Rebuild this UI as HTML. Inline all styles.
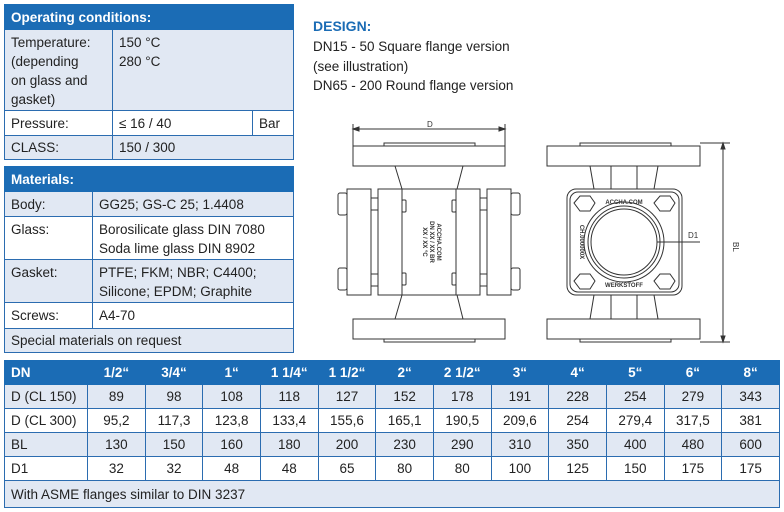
<!DOCTYPE html>
<html><head><meta charset="utf-8"><style>
body{margin:0;width:784px;height:512px;background:#fff;position:relative;font-family:"Liberation Sans",sans-serif;font-size:13.5px;color:#222;overflow:hidden}
.a{position:absolute;box-sizing:border-box}
table{border-collapse:collapse;position:absolute;table-layout:fixed}
td{border:1.5px solid #2b6cb0;padding:0 6px;vertical-align:top;line-height:19px}
tr.h td{background:#1b6cb5;color:#fff;font-weight:bold;border-color:#1b6cb5}
tr.l td{background:#e1e8f3}
#b td{text-align:center;vertical-align:middle;padding:0}
#b td:first-child{text-align:left;padding-left:6px}
</style></head><body>
<table style="left:4px;top:4px;width:290px">
<colgroup><col style="width:108px"><col style="width:140px"><col></colgroup>
<tr class="h" style="height:25px"><td colspan="3" style="vertical-align:middle">Operating conditions:</td></tr>
<tr class="l" style="height:81px"><td style="padding-top:3px">Temperature:<br>(depending<br>on glass and<br>gasket)</td><td colspan="2" style="padding-top:3px">150 °C<br>280 °C</td></tr>
<tr style="height:25px"><td style="vertical-align:middle">Pressure:</td><td style="vertical-align:middle">≤ 16 / 40</td><td style="vertical-align:middle">Bar</td></tr>
<tr class="l" style="height:24px"><td style="vertical-align:middle">CLASS:</td><td colspan="2" style="vertical-align:middle">150 / 300</td></tr>
</table>
<table style="left:4px;top:166px;width:290px">
<colgroup><col style="width:88px"><col></colgroup>
<tr class="h" style="height:25px"><td colspan="2" style="vertical-align:middle">Materials:</td></tr>
<tr class="l" style="height:25px"><td style="vertical-align:middle">Body:</td><td style="vertical-align:middle">GG25; GS-C 25; 1.4408</td></tr>
<tr style="height:43px"><td style="padding-top:3px">Glass:</td><td style="padding-top:3px">Borosilicate glass DIN 7080<br>Soda lime glass DIN 8902</td></tr>
<tr class="l" style="height:43px"><td style="padding-top:3px">Gasket:</td><td style="padding-top:3px">PTFE; FKM; NBR; C4400;<br>Silicone; EPDM; Graphite</td></tr>
<tr style="height:26px"><td style="vertical-align:middle">Screws:</td><td style="vertical-align:middle">A4-70</td></tr>
<tr class="l" style="height:24px"><td colspan="2" style="vertical-align:middle">Special materials on request</td></tr>
</table>
<div class="a" style="left:313px;top:18px;color:#1b6cb5;font-weight:bold;font-size:14px">DESIGN:</div>
<div class="a" style="left:313px;top:37px;line-height:19.5px">DN15 - 50 Square flange version<br>(see illustration)<br>DN65 - 200 Round flange version</div>
<svg class="a" style="left:0;top:0" width="784" height="512" fill="none" stroke="#333" stroke-width="1">
<line x1="353" y1="124" x2="353" y2="146"/><line x1="505" y1="124" x2="505" y2="146"/>
<line x1="353" y1="129" x2="505" y2="129"/>
<path d="M353 129l6-2v4zM505 129l-6-2v4z" fill="#333"/>
<text x="427" y="127" font-size="8" fill="#333" stroke="none" font-family="Liberation Sans">D</text>
<rect x="384" y="143" width="91" height="3"/><rect x="353" y="146" width="152" height="20"/>
<rect x="384" y="339" width="91" height="3"/><rect x="353" y="319" width="152" height="20"/>
<path d="M395 166L402 189M463 166L457 189M395 319L402 295M463 319L457 295"/>
<rect x="378" y="189" width="102" height="106"/>
<line x1="402" y1="189" x2="402" y2="295"/><line x1="456" y1="189" x2="456" y2="295"/>
<rect x="347" y="189" width="24" height="106"/><rect x="487" y="189" width="24" height="106"/>
<rect x="371" y="198" width="7" height="12"/><rect x="371" y="274" width="7" height="12"/>
<rect x="480" y="198" width="7" height="12"/><rect x="480" y="274" width="7" height="12"/>
<rect x="338" y="193" width="9" height="22" rx="2"/><rect x="338" y="268" width="9" height="22" rx="2"/>
<rect x="511" y="193" width="9" height="22" rx="2"/><rect x="511" y="268" width="9" height="22" rx="2"/>
<rect x="402" y="200" width="4" height="12" rx="1"/><rect x="402" y="273" width="4" height="12" rx="1"/>
<rect x="452" y="200" width="4" height="12" rx="1"/><rect x="452" y="273" width="4" height="12" rx="1"/>
<g transform="translate(430 242) rotate(90)" font-size="6" font-weight="bold" fill="#333" stroke="none" font-family="Liberation Sans" text-anchor="middle"><text y="-7">ACCHA.COM</text><text y="0">DN XX / XX BR</text><text y="7">XX / XX °C</text></g>
<rect x="580" y="143" width="91" height="3"/><rect x="547" y="146" width="153" height="20"/>
<rect x="580" y="339" width="91" height="3"/><rect x="547" y="319" width="153" height="20"/>
<path d="M590 166L594 189M611 166V189M637 166V189M658 166L654 189"/>
<path d="M590 319L594 295M611 319V295M637 319V295M658 319L654 295"/>
<rect x="567" y="189" width="115" height="106" rx="9"/>
<rect x="570" y="192" width="109" height="100" rx="8"/>
<polygon points="574,203 580,196 590,196 595,203 590,211 580,211"/>
<polygon points="654,203 660,196 670,196 675,203 670,211 660,211"/>
<polygon points="574,281 580,274 590,274 595,281 590,289 580,289"/>
<polygon points="654,281 660,274 670,274 675,281 670,289 660,289"/>
<circle cx="624" cy="242" r="40"/><circle cx="624" cy="242" r="36"/><circle cx="624" cy="242" r="33"/>
<line x1="657" y1="242" x2="700" y2="242"/>
<text x="688" y="238" font-size="8" fill="#333" stroke="none" font-family="Liberation Sans">D1</text>
<text x="624" y="204" font-size="6" font-weight="bold" fill="#333" stroke="none" text-anchor="middle" font-family="Liberation Sans">ACCHA.COM</text>
<text x="624" y="287" font-size="6" font-weight="bold" fill="#333" stroke="none" text-anchor="middle" font-family="Liberation Sans">WERKSTOFF</text>
<text transform="translate(580 242) rotate(90)" font-size="6" font-weight="bold" fill="#333" stroke="none" text-anchor="middle" font-family="Liberation Sans">CH.000000X</text>
<line x1="700" y1="143" x2="730" y2="143"/><line x1="700" y1="342" x2="730" y2="342"/>
<line x1="723" y1="143" x2="723" y2="342"/>
<path d="M723 143l-2 6h4zM723 342l-2-6h4z" fill="#333"/>
<text transform="translate(733 242) rotate(90)" font-size="8" fill="#333" stroke="none" font-family="Liberation Sans">BL</text>
</svg>
<table id="b" style="left:4px;top:360px;width:776px">
<colgroup><col style="width:83px"><col span="12"></colgroup>
<tr class="h" style="height:24px"><td>DN</td><td>1/2“</td><td>3/4“</td><td>1“</td><td>1 1/4“</td><td>1 1/2“</td><td>2“</td><td>2 1/2“</td><td>3“</td><td>4“</td><td>5“</td><td>6“</td><td>8“</td></tr>
<tr class="l" style="height:24px"><td>D (CL 150)</td><td>89</td><td>98</td><td>108</td><td>118</td><td>127</td><td>152</td><td>178</td><td>191</td><td>228</td><td>254</td><td>279</td><td>343</td></tr>
<tr style="height:24px"><td>D (CL 300)</td><td>95,2</td><td>117,3</td><td>123,8</td><td>133,4</td><td>155,6</td><td>165,1</td><td>190,5</td><td>209,6</td><td>254</td><td>279,4</td><td>317,5</td><td>381</td></tr>
<tr class="l" style="height:24px"><td>BL</td><td>130</td><td>150</td><td>160</td><td>180</td><td>200</td><td>230</td><td>290</td><td>310</td><td>350</td><td>400</td><td>480</td><td>600</td></tr>
<tr style="height:24px"><td>D1</td><td>32</td><td>32</td><td>48</td><td>48</td><td>65</td><td>80</td><td>80</td><td>100</td><td>125</td><td>150</td><td>175</td><td>175</td></tr>
<tr class="l" style="height:27px"><td colspan="13">With ASME flanges similar to DIN 3237</td></tr>
</table>
</body></html>
